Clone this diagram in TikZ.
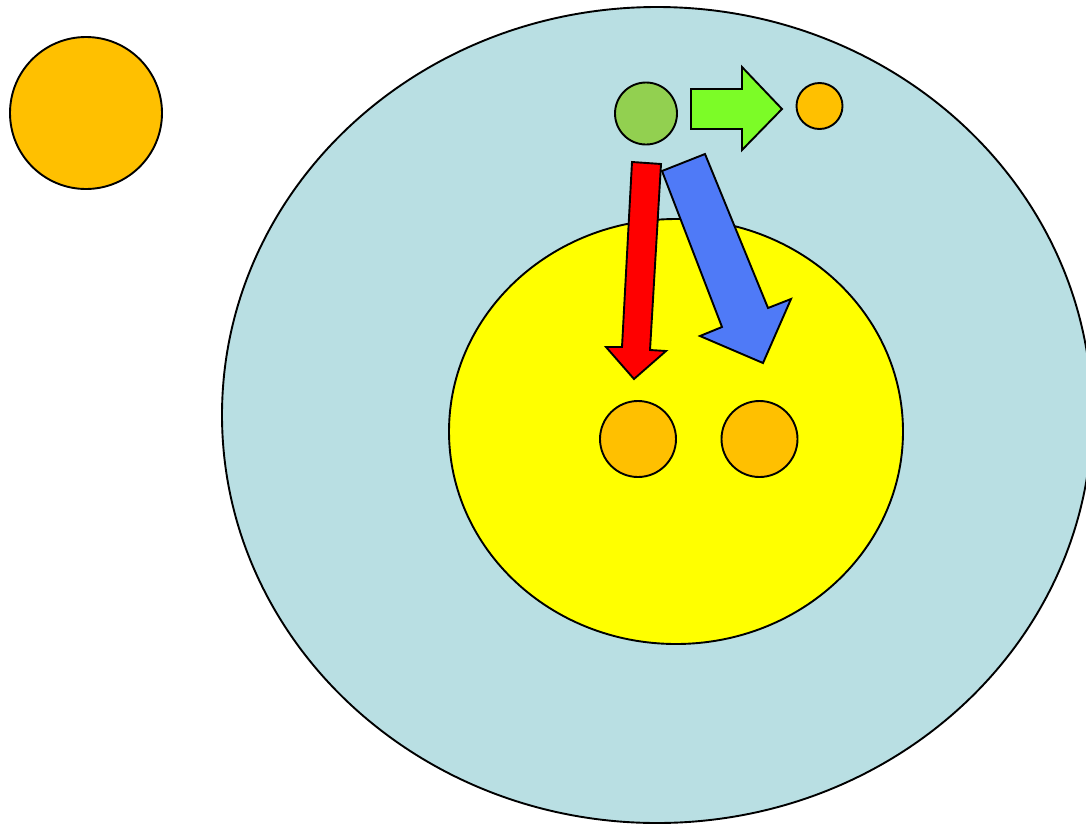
\documentclass[tikz,border=0pt]{standalone}
\usepackage{xcolor}
\usepackage{tikz}
\usetikzlibrary{shapes.geometric}
\definecolor{worldblue}{HTML}{B9DFE3}
\definecolor{coreyellow}{HTML}{FFFF00}
\definecolor{ballorange}{HTML}{FFC000}
\definecolor{seedgreen}{HTML}{92D050}
\definecolor{pushgreen}{HTML}{7CFC27}
\definecolor{pushred}{HTML}{FF0000}
\definecolor{pushblue}{HTML}{4F7AF7}

\begin{document}
\begin{tikzpicture}[
        x=1pt, y=-1pt,
        blob/.style={
            draw=black,
            line width=1.9pt,
            inner sep=0pt
        },
        ball/.style={blob, circle, fill=ballorange},
        zone/.style={blob, ellipse},
        shove/.style={draw=black, line width=1.9pt, line join=miter}
    ]
        \useasboundingbox (0,0) rectangle (1086,825);

        \node[ball, minimum size=152pt] (sun) at (86,113) {};
        \node[zone, fill=worldblue, minimum width=870pt, minimum height=816pt] (world) at (657,415) {};
        \node[zone, fill=coreyellow, minimum width=454pt, minimum height=425pt] (core) at (676,431.5) {};

        \node[blob, circle, fill=seedgreen, minimum size=62pt] (seed) at (646,113.5) {};
        \node[ball, minimum size=46pt] (spark) at (819.5,106) {};
        \node[ball, minimum size=76pt] (leftball) at (638,439) {};
        \node[ball, minimum size=76pt] (rightball) at (759.5,439) {};

        % arrows
        \draw[shove, fill=pushgreen] (691,89) -- (742,89) -- (742,67) -- (782,109)
            -- (742,150) -- (742,129) -- (691,129) -- cycle;
        \draw[shove, fill=pushred] (632,162) -- (661,164) -- (650,350) -- (666,351)
            -- (634,379) -- (606,347) -- (622,347) -- cycle;
        \draw[shove, fill=pushblue] (662,171) -- (705,154) -- (768,308) -- (791,299)
            -- (763,363) -- (700,336) -- (722,327) -- cycle;
    \end{tikzpicture}
\end{document}
